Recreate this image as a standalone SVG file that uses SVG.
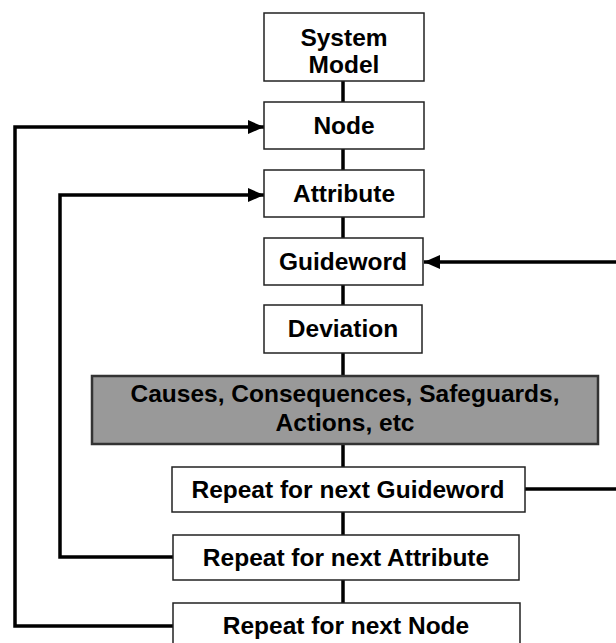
<svg xmlns="http://www.w3.org/2000/svg" width="616" height="643" viewBox="0 0 616 643">
<defs>
<style>
.box{fill:#fff;stroke:#222;stroke-width:1.5}
.gray{fill:#999;stroke:#333;stroke-width:2.5}
.t{font-family:"Liberation Sans",Arial,sans-serif;font-weight:bold;font-size:24.5px;fill:#000;text-anchor:middle}
.ln{fill:none;stroke:#000;stroke-width:3.5}
</style>
<marker id="ah" viewBox="0 0 16 14" refX="16" refY="7" markerWidth="16" markerHeight="14" markerUnits="userSpaceOnUse" orient="auto">
<path d="M0,0 L16,7 L0,14 Z" fill="#000"/>
</marker>
</defs>
<rect width="616" height="643" fill="#fff"/>
<g id="connectors">
<line class="ln" x1="343" y1="81" x2="343" y2="102"/>
<line class="ln" x1="343" y1="149" x2="343" y2="170"/>
<line class="ln" x1="343" y1="217" x2="343" y2="238"/>
<line class="ln" x1="343" y1="285" x2="343" y2="305"/>
<line class="ln" x1="343" y1="353" x2="343" y2="376"/>
<line class="ln" x1="343" y1="444" x2="343" y2="467"/>
<line class="ln" x1="343" y1="512" x2="343" y2="535"/>
<line class="ln" x1="343" y1="580" x2="343" y2="603"/>
<polyline class="ln" points="173,626 15,626 15,127 264,127" marker-end="url(#ah)"/>
<polyline class="ln" points="173,557 60,557 60,195 264,195" marker-end="url(#ah)"/>
<line class="ln" x1="525" y1="489" x2="616" y2="489"/>
<line class="ln" x1="616" y1="262" x2="424" y2="262" marker-end="url(#ah)"/>
</g>
<g id="system-model">
<rect class="box" x="264" y="13" width="160" height="68"/>
<text class="t" x="344" y="46">System</text>
<text class="t" x="344" y="73">Model</text>
</g>
<g id="node">
<rect class="box" x="264" y="102" width="160" height="47"/>
<text class="t" x="344" y="134">Node</text>
</g>
<g id="attribute">
<rect class="box" x="264" y="170" width="160" height="47"/>
<text class="t" x="344" y="202">Attribute</text>
</g>
<g id="guideword">
<rect class="box" x="264" y="238" width="159" height="47"/>
<text class="t" x="343" y="270">Guideword</text>
</g>
<g id="deviation">
<rect class="box" x="264" y="305" width="158" height="48"/>
<text class="t" x="343" y="337">Deviation</text>
</g>
<g id="causes">
<rect class="gray" x="92" y="376" width="506" height="68"/>
<text class="t" x="345" y="402">Causes, Consequences, Safeguards,</text>
<text class="t" x="345" y="431">Actions, etc</text>
</g>
<g id="repeat-guideword">
<rect class="box" x="172" y="467" width="353" height="45"/>
<text class="t" x="348" y="498">Repeat for next Guideword</text>
</g>
<g id="repeat-attribute">
<rect class="box" x="173" y="535" width="346" height="45"/>
<text class="t" x="346" y="566">Repeat for next Attribute</text>
</g>
<g id="repeat-node">
<rect class="box" x="173" y="603" width="347" height="45"/>
<text class="t" x="346" y="634">Repeat for next Node</text>
</g>
</svg>
